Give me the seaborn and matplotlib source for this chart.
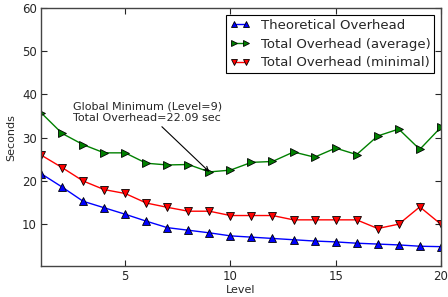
import numpy as np
import pandas as pd
import matplotlib
matplotlib.use('Agg')
import matplotlib.pyplot as plt
import seaborn as sns

# data
levels = list(range(1, 21))
theoretical = [21.7, 18.6, 15.3, 13.8, 12.3, 10.7, 9.2, 8.6, 8.0, 7.3,
               7.0, 6.7, 6.4, 6.1, 5.9, 5.6, 5.4, 5.2, 4.9, 4.8]
total_avg = [35.8, 31.0, 28.4, 26.5, 26.5, 24.1, 23.7, 23.8, 22.09, 22.5,
             24.3, 24.5, 26.7, 25.5, 27.6, 26.1, 30.4, 32.0, 27.3, 32.4]
total_min = [26.0, 23.1, 20.0, 18.0, 17.1, 14.9, 13.9, 13.0, 13.0, 12.0,
             12.0, 12.0, 11.0, 11.0, 11.0, 11.0, 9.0, 10.0, 14.0, 10.0]
min_level = 9
min_value = 22.09

sns.set_style('ticks')
plt.rcParams['font.family'] = ['DejaVu Sans']

fig = plt.figure(figsize=(4.48, 2.97), dpi=100)
ax = fig.add_axes([0.0915, 0.104, 0.8925, 0.869])

series = [
    ('Theoretical Overhead', theoretical, 'blue', '^'),
    ('Total Overhead (average)', total_avg, 'green', '>'),
    ('Total Overhead (minimal)', total_min, 'red', 'v'),
]
for name, vals, col, mk in series:
    df = pd.DataFrame({'Level': levels, 'Seconds': vals})
    sns.lineplot(data=df, x='Level', y='Seconds', ax=ax, color=col, marker=mk,
                 markersize=6, markeredgecolor='black', markeredgewidth=0.6,
                 linewidth=1, label=name)

ax.annotate('Global Minimum (Level=9)\nTotal Overhead=22.09 sec',
            xy=(min_level, min_value), xytext=(2.5, 33.3),
            fontsize=8, ha='left', va='bottom',
            arrowprops=dict(arrowstyle='->', color='black', lw=0.8,
                            shrinkA=0, shrinkB=0))

ax.set_xlim(1, 20)
ax.set_ylim(0.3, 60)
ax.set_xticks([5, 10, 15, 20])
ax.set_yticks([10, 20, 30, 40, 50, 60])
ax.tick_params(direction='in', top=True, right=True, labelsize=8.5, length=4,
               width=0.8, pad=3)
ax.set_xlabel('Level', fontsize=8, labelpad=1)
ax.set_ylabel('Seconds', fontsize=8, labelpad=4)
for s in ax.spines.values():
    s.set_color('#444444')
    s.set_linewidth(1)

leg = ax.legend(loc='upper right', fontsize=9.5, frameon=True, fancybox=False,
                edgecolor='black', framealpha=1, borderaxespad=0.5,
                numpoints=2, markerscale=0.8,
                handlelength=1.5, labelspacing=0.45, borderpad=0.3)
leg.get_frame().set_linewidth(0.8)

fig.savefig('out.png', dpi=100)
